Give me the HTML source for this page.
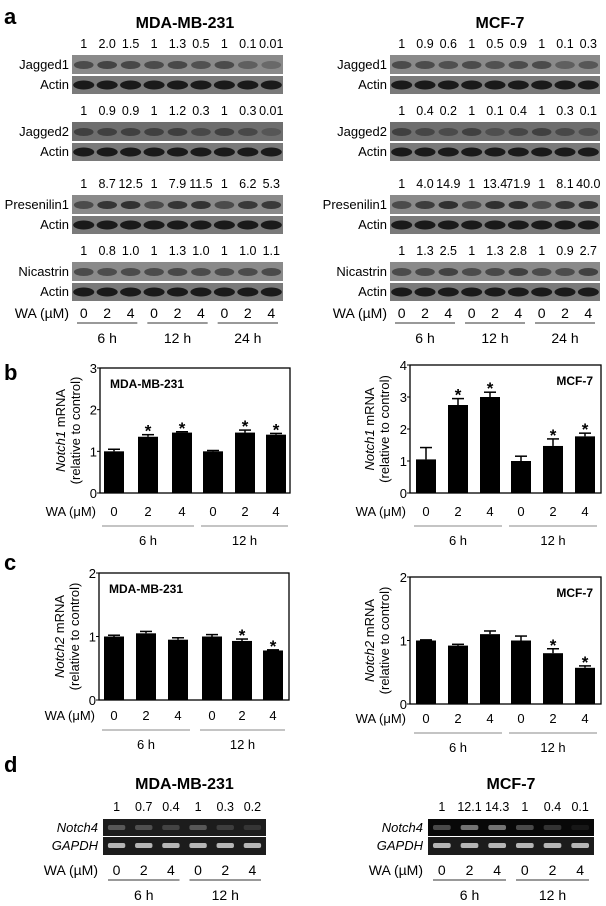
<!DOCTYPE html>
<html><head><meta charset="utf-8">
<style>
html,body{margin:0;padding:0;background:#fff;}
svg{display:block;font-family:"Liberation Sans",Arial,sans-serif;}
</style></head>
<body>
<svg id="fig" width="606" height="906" viewBox="0 0 606 906" xmlns="http://www.w3.org/2000/svg">
<text x="4" y="24" font-size="22" font-weight="bold">a</text>
<text x="4" y="380" font-size="22" font-weight="bold">b</text>
<text x="4" y="570" font-size="22" font-weight="bold">c</text>
<text x="4" y="772" font-size="22" font-weight="bold">d</text>
<g id="content"></g>
</svg>
<script>
// ---------- data ----------
const doses = ["0","2","4"];
const times3 = ["6 h","12 h","24 h"];
const times2 = ["6 h","12 h"];
const proteins = ["Jagged1","Jagged2","Presenilin1","Nicastrin"];
const mdaBlotNums = [
 ["1","2.0","1.5","1","1.3","0.5","1","0.1","0.01"],
 ["1","0.9","0.9","1","1.2","0.3","1","0.3","0.01"],
 ["1","8.7","12.5","1","7.9","11.5","1","6.2","5.3"],
 ["1","0.8","1.0","1","1.3","1.0","1","1.0","1.1"]];
const mcfBlotNums = [
 ["1","0.9","0.6","1","0.5","0.9","1","0.1","0.3"],
 ["1","0.4","0.2","1","0.1","0.4","1","0.3","0.1"],
 ["1","4.0","14.9","1","13.4","71.9","1","8.1","40.0"],
 ["1","1.3","2.5","1","1.3","2.8","1","0.9","2.7"]];
const mdaN1 = [1.0,1.35,1.45,1.0,1.45,1.4];
const mdaN1err = [0.05,0.05,0.02,0.02,0.06,0.03];
const mcfN1 = [1.05,2.75,3.0,1.0,1.47,1.77];
const mcfN1err = [0.37,0.2,0.15,0.15,0.22,0.1];
const mdaN2 = [1.0,1.05,0.95,1.0,0.93,0.78];
const mdaN2err = [0.02,0.03,0.03,0.03,0.03,0.01];
const mcfN2 = [1.0,0.92,1.1,1.0,0.8,0.57];
const mcfN2err = [0.01,0.02,0.05,0.07,0.07,0.03];
const mdaN1sig = [0,1,1,0,1,1];
const mcfN1sig = [0,1,1,0,1,1];
const mdaN2sig = [0,0,0,0,1,1];
const mcfN2sig = [0,0,0,0,1,1];
const mdaN4nums = ["1","0.7","0.4","1","0.3","0.2"];
const mcfN4nums = ["1","12.1","14.3","1","0.4","0.1"];

const NS="http://www.w3.org/2000/svg";
const root=document.getElementById('content');
function el(tag,attrs,parent,text){const e=document.createElementNS(NS,tag);for(const k in attrs)e.setAttribute(k,attrs[k]);if(text!==undefined)e.textContent=text;(parent||root).appendChild(e);return e;}

// ---------- Panel a blots ----------
function blotSet(x0,x1,title,titleX,nums,prefix){
  const t=el('text',{x:titleX,y:28,'font-size':16,'font-weight':'bold','text-anchor':'middle'},root,title);
  
  
  const tops=[55,122,195,262];
  const lw=(x1-x0)/9;
  proteins.forEach((p,i)=>{
    const y=tops[i];
    for(let j=0;j<9;j++){
      const n=el('text',{x:x0+lw*(j+0.5),y:y-7,'font-size':12.5,'text-anchor':'middle'},root,nums[i][j]);
      
      
    }
    const lab=el('text',{x:x0-3,y:y+14,'font-size':13,'text-anchor':'end'},root,p);
    
    
    const b=el('rect',{x:x0,y:y,width:x1-x0,height:19,fill:i==1?'#6e6e6e':'#8a8a8a'});
    
    
    for(let j=0;j<9;j++){
      const v=parseFloat(nums[i][j]);
      const op=Math.max(0.15,Math.min(0.9,0.35+0.1*Math.log(v+0.05)+0.25));
      const bd=el('ellipse',{cx:x0+lw*(j+0.5),cy:y+10,rx:lw*0.42,ry:4,fill:'#222',opacity:op});
      
      
    }
    const al=el('text',{x:x0-3,y:y+34,'font-size':13,'text-anchor':'end'},root,'Actin');
    
    
    const a=el('rect',{x:x0,y:y+21,width:x1-x0,height:18,fill:'#7a7a7a'});
    
    
    for(let j=0;j<9;j++){
      const bd=el('ellipse',{cx:x0+lw*(j+0.5),cy:y+30,rx:lw*0.45,ry:4.5,fill:'#1a1a1a'});
      
      
    }
  });
  const wa=el('text',{x:x0-3,y:318,'font-size':14,'text-anchor':'end'},root,'WA (µM)');
  
  
  for(let g=0;g<3;g++){
    for(let d=0;d<3;d++){
      const tx=el('text',{x:x0+lw*(g*3+d+0.5),y:318,'font-size':14,'text-anchor':'middle'},root,doses[d]);
      
      
    }
    const ln=el('line',{x1:x0+lw*g*3+5,x2:x0+lw*(g*3+3)-5,y1:323,y2:323,stroke:'#333','stroke-width':1});
    
    
    const tt=el('text',{x:x0+lw*(g*3+1.5),y:343,'font-size':14,'text-anchor':'middle'},root,times3[g]);
    
    
  }
}
blotSet(72,283,'MDA-MB-231',185,mdaBlotNums,'a-mda');
blotSet(390,600,'MCF-7',500,mcfBlotNums,'a-mcf');

// ---------- Bar charts ----------
function barChart(o){
  const {xl,xr,yt,yb,ymax,vals,errs,sig,gene,title,titleRight,prefix,labelX,waY,centers}=o;
  const ys=v=>yb-(v/ymax)*(yb-yt);
  const fr=el('rect',{x:xl,y:yt,width:xr-xl,height:yb-yt,fill:'none',stroke:'#000','stroke-width':1.3});
  
  
  for(let t=0;t<=ymax;t++){
    const tk=el('line',{x1:xl-3,x2:xl,y1:ys(t),y2:ys(t),stroke:'#000'});
    
    
    const tl=el('text',{x:xl-3,y:ys(t)+5,'font-size':13,'text-anchor':'end'},root,String(t));
    
    
  }
  const tt=el('text',{x:titleRight?xr-8:xl+10,y:yt+20,'font-size':12,'font-weight':'bold','text-anchor':titleRight?'end':'start'},root,title);
  
  
  const cy=(yt+yb)/2;
  const g1=el('text',{'font-size':13,'text-anchor':'middle',transform:`translate(${labelX},${cy}) rotate(-90)`});
  
  
  el('tspan',{'font-style':'italic'},g1,gene);
  el('tspan',{},g1,' mRNA');
  const g2=el('text',{'font-size':13,'text-anchor':'middle',transform:`translate(${labelX+15},${cy}) rotate(-90)`},root,'(relative to control)');
  
  
  const bw=20;
  vals.forEach((v,i)=>{
    const cx=centers[i];
    const b=el('rect',{x:cx-bw/2,y:ys(v),width:bw,height:yb-ys(v),fill:'#000'});
    
    
    const ey=ys(v+errs[i]);
    const e1=el('line',{x1:cx,x2:cx,y1:ys(v),y2:ey,stroke:'#000','stroke-width':1.5});
    
    
    const e2=el('line',{x1:cx-6,x2:cx+6,y1:ey,y2:ey,stroke:'#000','stroke-width':1.5});
    
    
    if(sig[i]){
      const s=el('text',{x:cx,y:ey+2,'font-size':17,'font-weight':'bold','text-anchor':'middle'},root,'*');
      
      
    }
    const dl=el('text',{x:cx,y:waY,'font-size':13,'text-anchor':'middle'},root,doses[i%3]);
    
    
  });
  const wl=el('text',{x:xl-4,y:waY,'font-size':13,'text-anchor':'end'},root,'WA (μM)');
  
  
  for(let g=0;g<2;g++){
    const a=centers[g*3]-12,b=centers[g*3+2]+12;
    const ln=el('line',{x1:a,x2:b,y1:waY+10,y2:waY+10,stroke:'#888','stroke-width':1});
    
    
    const t=el('text',{x:(a+b)/2,y:waY+29,'font-size':13,'text-anchor':'middle'},root,times2[g]);
    
    
  }
}
barChart({xl:100,xr:290,yt:368,yb:493,ymax:3,vals:mdaN1,errs:mdaN1err,sig:mdaN1sig,gene:'Notch1',title:'MDA-MB-231',titleRight:false,prefix:'b-mda',labelX:65,waY:516,centers:[114,148,182,213,245,276]});
barChart({xl:410,xr:601,yt:365,yb:493,ymax:4,vals:mcfN1,errs:mcfN1err,sig:mcfN1sig,gene:'Notch1',title:'MCF-7',titleRight:true,prefix:'b-mcf',labelX:374,waY:516,centers:[426,458,490,521,553,585]});
barChart({xl:99,xr:289,yt:573,yb:700,ymax:2,vals:mdaN2,errs:mdaN2err,sig:mdaN2sig,gene:'Notch2',title:'MDA-MB-231',titleRight:false,prefix:'c-mda',labelX:64,waY:720,centers:[114,146,178,212,242,273]});
barChart({xl:410,xr:601,yt:577,yb:704,ymax:2,vals:mcfN2,errs:mcfN2err,sig:mcfN2sig,gene:'Notch2',title:'MCF-7',titleRight:true,prefix:'c-mcf',labelX:374,waY:723,centers:[426,458,490,521,553,585]});

// ---------- Panel d gels ----------
function gel(x0,x1,title,nums,prefix,dark){
  const t=el('text',{x:(x0+x1)/2,y:789,'font-size':16,'font-weight':'bold','text-anchor':'middle'},root,title);
  
  
  const lw=(x1-x0)/6;
  for(let j=0;j<6;j++){
    const n=el('text',{x:x0+lw*(j+0.5),y:811,'font-size':12.5,'text-anchor':'middle'},root,nums[j]);
    
    
  }
  [['Notch4',819],['GAPDH',837]].forEach(([nm,y],k)=>{
    const l=el('text',{x:x0-5,y:y+13,'font-size':13,'font-style':'italic','text-anchor':'end'},root,nm);
    
    
    const r=el('rect',{x:x0,y:y,width:x1-x0,height:k==0?17:18,fill:k==0&&dark?'#080808':'#1c1c1c'});
    
    
    for(let j=0;j<6;j++){
      const v=k==0?parseFloat(nums[j]):1;
      const op=k==0?Math.max(0.05,Math.min(0.5,0.15+0.12*Math.log(v+0.05)+0.15)):0.8;
      const bd=el('rect',{x:x0+lw*(j+0.18),y:y+6,width:lw*0.64,height:5,rx:2,fill:'#ddd',opacity:op});
      
      
    }
  });
  const wa=el('text',{x:x0-5,y:875,'font-size':14,'text-anchor':'end'},root,'WA (µM)');
  
  
  for(let g=0;g<2;g++){
    for(let d=0;d<3;d++){
      const tx=el('text',{x:x0+lw*(g*3+d+0.5),y:875,'font-size':14,'text-anchor':'middle'},root,doses[d]);
      
      
    }
    const ln=el('line',{x1:x0+lw*g*3+5,x2:x0+lw*(g*3+3)-5,y1:880,y2:880,stroke:'#333'});
    
    
    const tt=el('text',{x:x0+lw*(g*3+1.5),y:900,'font-size':14,'text-anchor':'middle'},root,times2[g]);
    
    
  }
}
gel(103,266,'MDA-MB-231',mdaN4nums,'d-mda',false);
gel(428,594,'MCF-7',mcfN4nums,'d-mcf',true);
</script>
</body></html>
